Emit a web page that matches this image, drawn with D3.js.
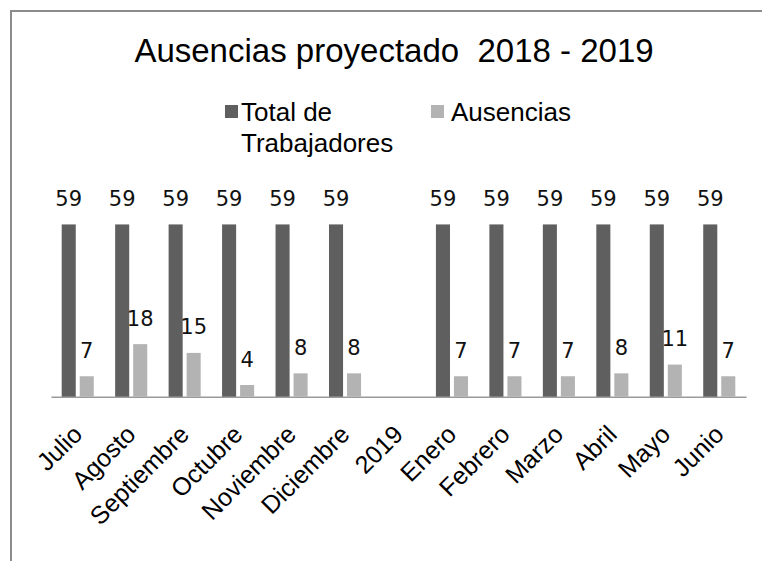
<!DOCTYPE html>
<html>
<head>
<meta charset="utf-8">
<script src="https://cdnjs.cloudflare.com/ajax/libs/d3/7.8.5/d3.min.js"></script>
<style>
  body { margin: 0; background: #fff; }
  svg { display: block; }
</style>
</head>
<body>
<div id="chart"></div>
<script>
// data
var meses = ["Julio", "Agosto", "Septiembre", "Octubre", "Noviembre", "Diciembre",
             "2019", "Enero", "Febrero", "Marzo", "Abril", "Mayo", "Junio"];
var totalTrabajadores = [59, 59, 59, 59, 59, 59, null, 59, 59, 59, 59, 59, 59];
var ausencias = [7, 18, 15, 4, 8, 8, null, 7, 7, 7, 8, 11, 7];
var series = ["Total de Trabajadores", "Ausencias"];
var colores = ["#5f5f5f", "#b3b3b3"];

var w = 762, h = 561;

var svg = d3.select("#chart")
            .append("svg")
            .attr("width", w)
            .attr("height", h);

// outer frame (runs off the right and bottom of the picture)
svg.append("rect")
   .attr("x", 11).attr("y", 11)
   .attr("width", 800).attr("height", 600)
   .attr("fill", "#fff")
   .attr("stroke", "#8c8c8c")
   .attr("stroke-width", 2);

// title
svg.append("text")
   .attr("x", 394).attr("y", 62)
   .attr("text-anchor", "middle")
   .style("font-family", "'Liberation Sans', Arial, sans-serif")
   .style("font-size", "33px")
   .style("white-space", "pre")
   .attr("xml:space", "preserve")
   .text("Ausencias proyectado  2018 - 2019");

// legend
var legendPos = [{x: 225, tx: 241, lines: ["Total de", "Trabajadores"]},
                 {x: 431, tx: 451, lines: ["Ausencias"]}];
var legend = svg.append("g").selectAll(".leg")
                .data(legendPos)
                .enter().append("g")
                .attr("class", "leg");
legend.append("rect")
      .attr("x", function(d){ return d.x; })
      .attr("y", 105)
      .attr("width", 13).attr("height", 13)
      .attr("fill", function(d, i){ return colores[i]; });
legend.append("text")
      .attr("x", function(d){ return d.tx; })
      .attr("y", 121)
      .style("font-family", "'Liberation Sans', Arial, sans-serif")
      .style("font-size", "26px")
      .selectAll("tspan")
      .data(function(d){ return d.lines; })
      .enter().append("tspan")
      .attr("x", function(){ return d3.select(this.parentNode).datum().tx; })
      .attr("dy", function(d, i){ return i == 0 ? 0 : 31; })
      .text(function(d){ return d; });

// scales
var x = d3.scaleBand()
          .domain(meses)
          .range([51, 746])
          .paddingInner(0.4)
          .paddingOuter(0.2);

var xSerie = d3.scaleBand()
               .domain(series)
               .range([0, x.bandwidth()])
               .paddingInner(0.22);

var y = d3.scaleLinear()
          .domain([0, 60])
          .range([396.7, 221.5]);

// x axis (no ticks, just the line)
var axis = svg.append("g")
              .attr("transform", "translate(0," + y(0) + ")")
              .call(d3.axisBottom(x).tickSize(0).tickFormat(""));
axis.select(".domain")
    .attr("stroke", "#9a9a9a")
    .attr("stroke-width", 1.5);

// category labels, rotated
svg.append("g").selectAll(".mes")
   .data(meses)
   .enter().append("text")
   .attr("class", "mes")
   .attr("transform", function(d){
     return "translate(" + (x(d) + x.bandwidth() / 2 + 6) + ",436) rotate(-45)";
   })
   .attr("text-anchor", "end")
   .style("font-family", "'Liberation Sans', Arial, sans-serif")
   .style("font-size", "25px")
   .text(function(d){ return d; });

// bars
var filas = meses.map(function(m, i){
  return {mes: m, valores: [totalTrabajadores[i], ausencias[i]]};
});

var grupos = svg.append("g").selectAll(".grupo")
                .data(filas)
                .enter().append("g")
                .attr("class", "grupo")
                .attr("transform", function(d){ return "translate(" + x(d.mes) + ",0)"; });

var celdas = grupos.selectAll(".celda")
                   .data(function(d){
                     return d.valores.map(function(v, j){ return {serie: series[j], v: v, j: j}; })
                                     .filter(function(e){ return e.v != null; });
                   })
                   .enter();

celdas.append("rect")
      .attr("x", function(d){ return xSerie(d.serie); })
      .attr("y", function(d){ return y(d.v); })
      .attr("width", xSerie.bandwidth())
      .attr("height", function(d){ return y(0) - y(d.v); })
      .attr("fill", function(d){ return colores[d.j]; });

celdas.append("text")
      .attr("x", function(d){ return xSerie(d.serie) + xSerie.bandwidth() / 2; })
      .attr("y", function(d){ return y(d.v) - 18.5; })
      .attr("text-anchor", "middle")
      .style("font-family", "'DejaVu Sans', sans-serif")
      .style("font-size", "21px")
      .attr("fill", "#111")
      .text(function(d){ return d.v; });
</script>
</body>
</html>
